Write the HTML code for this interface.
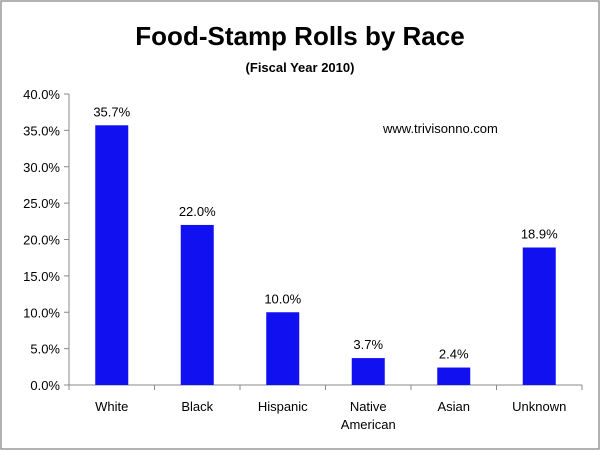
<!DOCTYPE html>
<html><head><meta charset="utf-8"><style>
body{margin:0;background:#fff}
svg text{font-family:"Liberation Sans",sans-serif}
</style></head><body>
<svg width="600" height="450">
<rect x="1" y="1" width="598" height="448" fill="#fff" stroke="#999" stroke-width="1.5"/>
<text x="300" y="45" text-anchor="middle" font-size="26" font-weight="bold">Food-Stamp Rolls by Race</text>
<text x="300" y="72" text-anchor="middle" font-size="13" font-weight="bold">(Fiscal Year 2010)</text>
<text x="383" y="133" font-size="13">www.trivisonno.com</text>
<g id="plot"></g>
</svg>
<script>
const categories=["White","Black","Hispanic","Native|American","Asian","Unknown"];
const values=[35.7,22.0,10.0,3.7,2.4,18.9];
const tickValues=[0,5,10,15,20,25,30,35,40];
const x0=69,catW=85.5,y0=385,yTop=94,yMax=40,barW=33;
const y=v=>y0-(v/yMax)*(y0-yTop);
const g=document.getElementById('plot');
const NS='http://www.w3.org/2000/svg';
function mk(t,a){const e=document.createElementNS(NS,t);for(const k in a)e.setAttribute(k,a[k]);g.appendChild(e);return e;}
let ax=mk('line',{x1:x0,y1:yTop,x2:x0,y2:y0,stroke:'#888'});


let bx=mk('line',{x1:x0,y1:y0,x2:x0+catW*categories.length,y2:y0,stroke:'#888'});


tickValues.forEach(v=>{
 let l=mk('line',{x1:x0-5,y1:y(v),x2:x0,y2:y(v),stroke:'#888'});
 
 
 let t=mk('text',{x:x0-9,y:y(v)+5,'text-anchor':'end','font-size':'13'});
 t.textContent=v.toFixed(1)+'%';
 
 
});
for(let i=0;i<=categories.length;i++){
 let l=mk('line',{x1:x0+i*catW,y1:y0,x2:x0+i*catW,y2:y0+5,stroke:'#888'});
 
 
}
categories.forEach((c,i)=>{
 const cx=x0+catW*(i+0.5);
 let r=mk('rect',{x:cx-barW/2,y:y(values[i]),width:barW,height:y0-y(values[i]),fill:'#1010f0'});
 
 
 let vl=mk('text',{x:cx,y:y(values[i])-9,'text-anchor':'middle','font-size':'13'});
 vl.textContent=values[i].toFixed(1)+'%';
 
 
 c.split('|').forEach((p,j)=>{
  let t=mk('text',{x:cx,y:y0+26+j*18,'text-anchor':'middle','font-size':'13'});
  t.textContent=p;
  
  
 });
});
</script>
</body></html>
